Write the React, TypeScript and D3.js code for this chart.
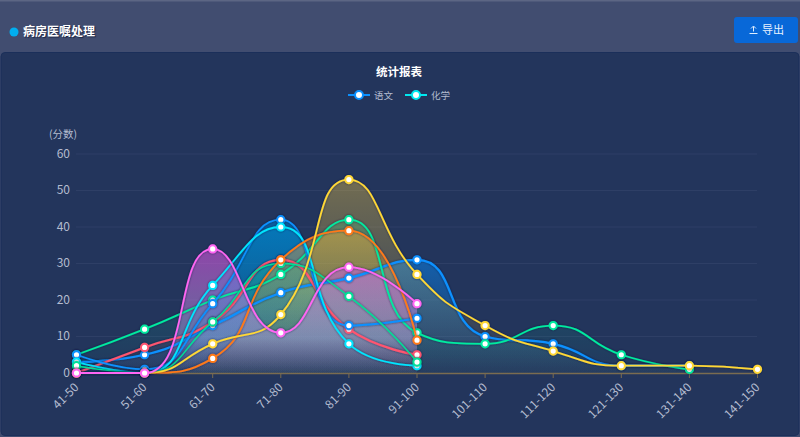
import * as d3 from "d3";

const categories = ["41-50", "51-60", "61-70", "71-80", "81-90", "91-100", "101-110", "111-120", "121-130", "131-140", "141-150"];
const yTicks = [0, 10, 20, 30, 40, 50, 60];

// draw order follows the overlaps in the picture
const blueB = [3, 5, 13, 22, 26, 31, 10, 8, 2, 2];
const greenE = [5, 12, 20, 27, 42, 11, 8, 13, 5, 1];
const red = [0, 7, 14, 31, 12, 5];
const blueA = [5, 1, 19, 42, 13, 15];
const cyan = [3, 0, 24, 40, 8, 2];
const greenD = [2, 0, 14, 30, 21, 3];
const orange = [0, 0, 4, 31, 39, 9];
const yellow = [0, 0, 8, 16, 53, 27, 13, 6, 2, 2, 1];
const magenta = [0, 0, 34, 11, 29, 19];

const series: { id: string; color: string; fill: string; a: number; values: number[]; w: number }[] = [
  { id: "b2", color: "#0a90ff", fill: "#0a7ce0", a: 0.6, values: blueB, w: 2.2 },
  { id: "g2", color: "#00eaa0", fill: "#00c8a0", a: 0.3, values: greenE, w: 1.8 },
  { id: "r", color: "#ff5570", fill: "#ff5570", a: 0.25, values: red, w: 2.2 },
  { id: "b1", color: "#0a90ff", fill: "#0070c0", a: 0.7, values: blueA, w: 1.8 },
  { id: "c", color: "#00e4ff", fill: "#0088c8", a: 0.6, values: cyan, w: 1.8 },
  { id: "g1", color: "#00e098", fill: "#00d890", a: 0.3, values: greenD, w: 1.4 },
  { id: "o", color: "#ff7a18", fill: "#ffa030", a: 0.45, values: orange, w: 1.8 },
  { id: "y", color: "#ffd836", fill: "#ffd040", a: 0.36, values: yellow, w: 1.8 },
  { id: "m", color: "#ff66f4", fill: "#d050d8", a: 0.62, values: magenta, w: 1.8 },
];

const W = 800, H = 437;
const x = d3.scalePoint<string>().domain(categories).range([76.5, 757.5]);
const y = d3.scaleLinear().domain([0, 60]).range([373, 154]);

// same control points as an echarts smooth line (smooth = 0.5)
class SmoothCurve {
  ctx: any; pts: [number, number][] = []; _line = NaN;
  constructor(ctx: any) { this.ctx = ctx; }
  areaStart() { this._line = 0; }
  areaEnd() { this._line = NaN; }
  lineStart() { this.pts = []; }
  point(a: number, b: number) { this.pts.push([+a, +b]); }
  lineEnd() {
    const p = this.pts, n = p.length, s = 0.5;
    if (n) { if (this._line) this.ctx.lineTo(p[0][0], p[0][1]); else this.ctx.moveTo(p[0][0], p[0][1]); }
    let c0: [number, number] = p[0];
    for (let i = 1; i < n; i++) {
      const [px, py] = p[i], [ax, ay] = p[i - 1];
      let c1: [number, number] = [px, py], next: [number, number] = [px, py];
      if (i < n - 1) {
        const [nx, ny] = p[i + 1];
        const lp = Math.hypot(px - ax, py - ay), ln = Math.hypot(nx - px, ny - py);
        const r = ln / (ln + lp);
        let cx1 = px + (nx - ax) * s * r, cy1 = py + (ny - ay) * s * r;
        cx1 = Math.max(Math.min(cx1, Math.max(nx, px)), Math.min(nx, px));
        cy1 = Math.max(Math.min(cy1, Math.max(ny, py)), Math.min(ny, py));
        let cx0 = px - (cx1 - px) * lp / ln, cy0 = py - (cy1 - py) * lp / ln;
        cx0 = Math.max(Math.min(cx0, Math.max(ax, px)), Math.min(ax, px));
        cy0 = Math.max(Math.min(cy0, Math.max(ay, py)), Math.min(ay, py));
        cx1 = px + (px - cx0) * ln / lp; cy1 = py + (py - cy0) * ln / lp;
        c1 = [cx0, cy0]; next = [cx1, cy1];
      }
      this.ctx.bezierCurveTo(c0[0], c0[1], c1[0], c1[1], px, py);
      c0 = next;
    }
    if (this._line || (this._line !== 0 && n === 1)) this.ctx.closePath();
    this._line = 1 - this._line;
  }
}
const smooth: any = (ctx: any) => new SmoothCurve(ctx);

const px = (_d: number, i: number) => x(categories[i]) as number;
const line = d3.line<number>().x(px).y((d) => y(d)).curve(smooth);
const area = d3.area<number>().x(px).y0(y(0)).y1((d) => y(d)).curve(smooth);

const font = "'Noto Sans CJK SC', 'Noto Sans', sans-serif";
const labelColor = "#b4bcd0";

export default function App() {
  return (
    <svg width={W} height={H} style={{ position: "absolute", left: 0, top: 0, display: "block" }} fontFamily={font}>
      <defs>
        {series.map((s) => (
          <linearGradient key={s.id} id={`fill-${s.id}`} x1="0" y1="0" x2="0" y2="1">
            <stop offset="0" stopColor={s.fill} stopOpacity={s.a} />
            {s.id === "m" && <stop offset="0.72" stopColor="#b8a0e8" stopOpacity={0.45} />}
            <stop offset="1" stopColor={s.fill} stopOpacity={0.02} />
          </linearGradient>
        ))}
        <filter id="shadow" x="-20%" y="-20%" width="140%" height="140%">
          <feDropShadow dx="0" dy="0" stdDeviation="1.1" floodColor="#0a1a40" floodOpacity="0.7" />
        </filter>
      </defs>

      <rect width={W} height={H} fill="#414d70" />
      <rect width={W} height={1.5} fill="#5c6684" />
      <rect x={1} y={52.5} width={798} height={383} rx={4} fill="#23355c" stroke="#1b2f5a" />

      <circle cx={14} cy={32} r={4.5} fill="#00aef0" />
      <text x={23} y={36} fontSize={12} fontWeight={700} fill="#fff" style={{ textShadow: "1px 1px 1px #1a2444" }}>病房医嘱处理</text>
      <rect x={734} y={17} width={64} height={26} rx={3} fill="#0868d8" />
      <path d="M749.5 33.5h8M753.5 31.5v-5M751 28.5l2.5-2.5 2.5 2.5" fill="none" stroke="#dfeeff" strokeWidth={1} />
      <text x={762} y={34} fontSize={11} fill="#e8f2ff">导出</text>

      <text x={399} y={76} textAnchor="middle" fontSize={11.5} fontWeight={700} fill="#fff">统计报表</text>
      <line x1={348} x2={370} y1={95} y2={95} stroke="#0a90ff" strokeWidth={2} />
      <circle cx={359} cy={95} r={4} fill="#fff" stroke="#0a90ff" strokeWidth={2} />
      <text x={374} y={98.5} fontSize={9.5} fill={labelColor}>语文</text>
      <line x1={405} x2={427} y1={95} y2={95} stroke="#00e8f0" strokeWidth={2} />
      <circle cx={416} cy={95} r={4} fill="#fff" stroke="#00e8f0" strokeWidth={2} />
      <text x={431} y={98.5} fontSize={9.5} fill={labelColor}>化学</text>

      <text x={63} y={138} textAnchor="middle" fontSize={10.5} fill={labelColor}>(分数)</text>

      {yTicks.map((t) => (
        <g key={t}>
          {t > 0 && <line x1={76} x2={757} y1={y(t)} y2={y(t)} stroke="#2e3f66" />}
          <text x={70} y={y(t) + 3.5} textAnchor="end" fontSize={12} fill={labelColor}>{t}</text>
        </g>
      ))}

      {series.map((s) => (
        <path key={s.id} d={area(s.values) as string} fill={`url(#fill-${s.id})`} />
      ))}

      <line x1={76} x2={757} y1={y(0) + 0.5} y2={y(0) + 0.5} stroke="#7a6c50" strokeWidth={1.5} />
      {categories.map((c) => (
        <g key={c}>
          <line x1={x(c)} x2={x(c)} y1={y(0)} y2={y(0) + 5} stroke="#7a6c50" />
          <text transform={`translate(${x(c)},${y(0) + 12}) rotate(-45)`} textAnchor="end" dy="0.35em" fontSize={12} fill={labelColor}>{c}</text>
        </g>
      ))}

      {series.map((s) => (
        <g key={s.id} filter="url(#shadow)">
          <path d={line(s.values) as string} fill="none" stroke={s.color} strokeWidth={s.w} />
          {s.values.map((v, i) => (
            <circle key={i} cx={px(v, i)} cy={y(v)} r={3.6} fill="#fff" stroke={s.color} strokeWidth={2} />
          ))}
        </g>
      ))}
    </svg>
  );
}
